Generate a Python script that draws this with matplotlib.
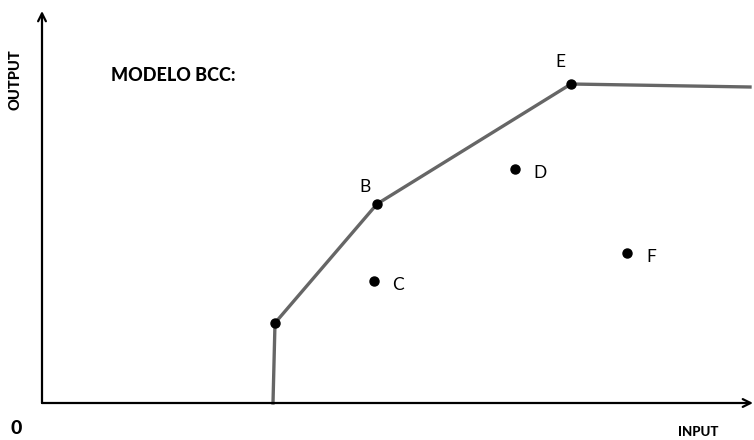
import matplotlib.pyplot as plt

plt.rcParams["font.family"] = ["Lato", "DejaVu Sans"]

# frontera BCC (input, output)
frontier_x = [231, 233, 335, 529, 708]
frontier_y = [0, 80, 199, 319, 316]

# DMUs
point_names = ["", "B", "C", "D", "E", "F"]
point_x = [233, 335, 332, 473, 529, 585]
point_y = [80, 199, 122, 234, 319, 150]
label_dx = [0, -12, 24, 25, -11, 24]
label_dy = [0, 17, -4, -4, 22, -4]

fig = plt.figure(figsize=(7.54, 4.40), dpi=100)
ax = fig.add_axes([0, 0, 1, 1])
ax.set_xlim(-42, 712)
ax.set_ylim(-37, 403)
ax.axis("off")

# ejes con flecha
ax.annotate("", xy=(711, 0), xytext=(0, 0),
            arrowprops=dict(arrowstyle="->", lw=1.6, color="black",
                            shrinkA=0, shrinkB=0, mutation_scale=14))
ax.annotate("", xy=(0, 392), xytext=(0, 0),
            arrowprops=dict(arrowstyle="->", lw=1.6, color="black",
                            shrinkA=0, shrinkB=0, mutation_scale=14))

ax.plot(frontier_x, frontier_y, color="#666666", lw=2.4, zorder=2)
ax.plot(point_x, point_y, "o", color="black", markersize=6.5, zorder=3)

for name, x, y, dx, dy in zip(point_names, point_x, point_y, label_dx, label_dy):
    if name:
        ax.text(x + dx, y + dy, name, fontsize=12.5, ha="center", va="center")

ax.text(131, 328, "MODELO BCC:", fontsize=13, fontweight="black",
        ha="center", va="center")
ax.text(-26, 323, "OUTPUT", fontsize=10.5, fontweight="black", rotation=90,
        ha="center", va="center")
ax.text(656, -29, "INPUT", fontsize=9.5, fontweight="black",
        ha="center", va="center")
ax.text(-26, -25, "0", fontsize=14, fontweight="black",
        ha="center", va="center")

fig.savefig("out.png", dpi=100)
